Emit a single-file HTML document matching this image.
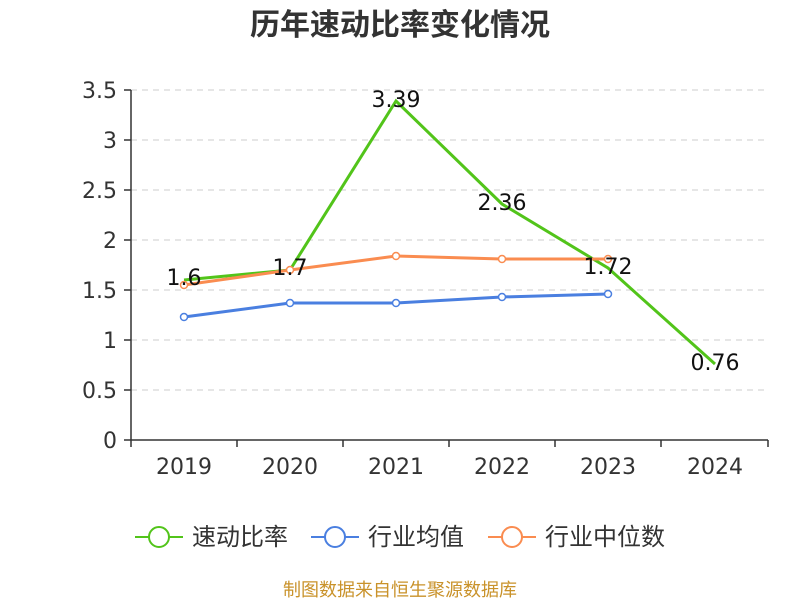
<!DOCTYPE html>
<html><head><meta charset="utf-8"><style>body{margin:0;background:#fff}svg{display:block}</style></head><body>
<svg width="800" height="600" xmlns="http://www.w3.org/2000/svg" font-family="DejaVu Sans, Noto Sans CJK SC, sans-serif">
<text x="400" y="35" text-anchor="middle" font-size="30" font-weight="bold" fill="#333" font-family="Noto Sans CJK SC, sans-serif">历年速动比率变化情况</text>
<g stroke="#ccc" stroke-dasharray="6,5" stroke-width="1">
<line x1="131" y1="90" x2="768" y2="90"/><line x1="131" y1="140" x2="768" y2="140"/><line x1="131" y1="190" x2="768" y2="190"/><line x1="131" y1="240" x2="768" y2="240"/><line x1="131" y1="290" x2="768" y2="290"/><line x1="131" y1="340" x2="768" y2="340"/><line x1="131" y1="390" x2="768" y2="390"/>
</g>
<g stroke="#333" stroke-width="1.5">
<line x1="131" y1="90" x2="131" y2="440"/><line x1="131" y1="440" x2="768" y2="440"/>
<line x1="124" y1="90" x2="131" y2="90"/><line x1="124" y1="140" x2="131" y2="140"/><line x1="124" y1="190" x2="131" y2="190"/><line x1="124" y1="240" x2="131" y2="240"/><line x1="124" y1="290" x2="131" y2="290"/><line x1="124" y1="340" x2="131" y2="340"/><line x1="124" y1="390" x2="131" y2="390"/><line x1="124" y1="440" x2="131" y2="440"/>
<line x1="131" y1="440" x2="131" y2="447"/><line x1="237" y1="440" x2="237" y2="447"/><line x1="343" y1="440" x2="343" y2="447"/><line x1="449" y1="440" x2="449" y2="447"/><line x1="555" y1="440" x2="555" y2="447"/><line x1="661" y1="440" x2="661" y2="447"/><line x1="768" y1="440" x2="768" y2="447"/>
</g>
<g font-size="22" fill="#333" text-anchor="end">
<text x="117" y="98">3.5</text><text x="117" y="148">3</text><text x="117" y="198">2.5</text><text x="117" y="248">2</text><text x="117" y="298">1.5</text><text x="117" y="348">1</text><text x="117" y="398">0.5</text><text x="117" y="448">0</text>
</g>
<g font-size="22" fill="#333" text-anchor="middle">
<text x="184" y="474">2019</text><text x="290" y="474">2020</text><text x="396" y="474">2021</text><text x="502" y="474">2022</text><text x="608" y="474">2023</text><text x="715" y="474">2024</text>
</g>
<polyline fill="none" stroke="#52c41a" stroke-width="3" points="184,280 290,270 396,101 502,204 608,268 715,364"/>
<polyline fill="none" stroke="#4a7fe0" stroke-width="3" points="184,317 290,303 396,303 502,297 608,294"/>
<polyline fill="none" stroke="#fa8c50" stroke-width="3" points="184,285 290,270 396,256 502,259 608,259"/>
<g fill="#fff" stroke-width="1.5">
<g stroke="#4a7fe0"><circle cx="184" cy="317" r="3.5"/><circle cx="290" cy="303" r="3.5"/><circle cx="396" cy="303" r="3.5"/><circle cx="502" cy="297" r="3.5"/><circle cx="608" cy="294" r="3.5"/></g>
<g stroke="#fa8c50"><circle cx="184" cy="285" r="3.5"/><circle cx="290" cy="270" r="3.5"/><circle cx="396" cy="256" r="3.5"/><circle cx="502" cy="259" r="3.5"/><circle cx="608" cy="259" r="3.5"/></g>
</g>
<g font-size="22" fill="#111" text-anchor="middle">
<text x="184" y="285">1.6</text><text x="290" y="275">1.7</text><text x="396" y="107">3.39</text><text x="502" y="210">2.36</text><text x="608" y="274">1.72</text><text x="715" y="370">0.76</text>
</g>
<g stroke-width="2" fill="#fff">
<line x1="135" y1="537" x2="183" y2="537" stroke="#52c41a"/><circle cx="159" cy="537" r="10" stroke="#52c41a"/>
<line x1="311" y1="537" x2="359" y2="537" stroke="#4a7fe0"/><circle cx="335" cy="537" r="10" stroke="#4a7fe0"/>
<line x1="488" y1="537" x2="536" y2="537" stroke="#fa8c50"/><circle cx="512" cy="537" r="10" stroke="#fa8c50"/>
</g>
<g font-size="24" fill="#333" font-family="Noto Sans CJK SC, sans-serif">
<text x="192" y="545">速动比率</text><text x="368" y="545">行业均值</text><text x="545" y="545">行业中位数</text>
</g>
<text x="400" y="596" text-anchor="middle" font-size="18" fill="#c9922a" font-family="Noto Sans CJK SC, sans-serif">制图数据来自恒生聚源数据库</text>
</svg>
</body></html>
